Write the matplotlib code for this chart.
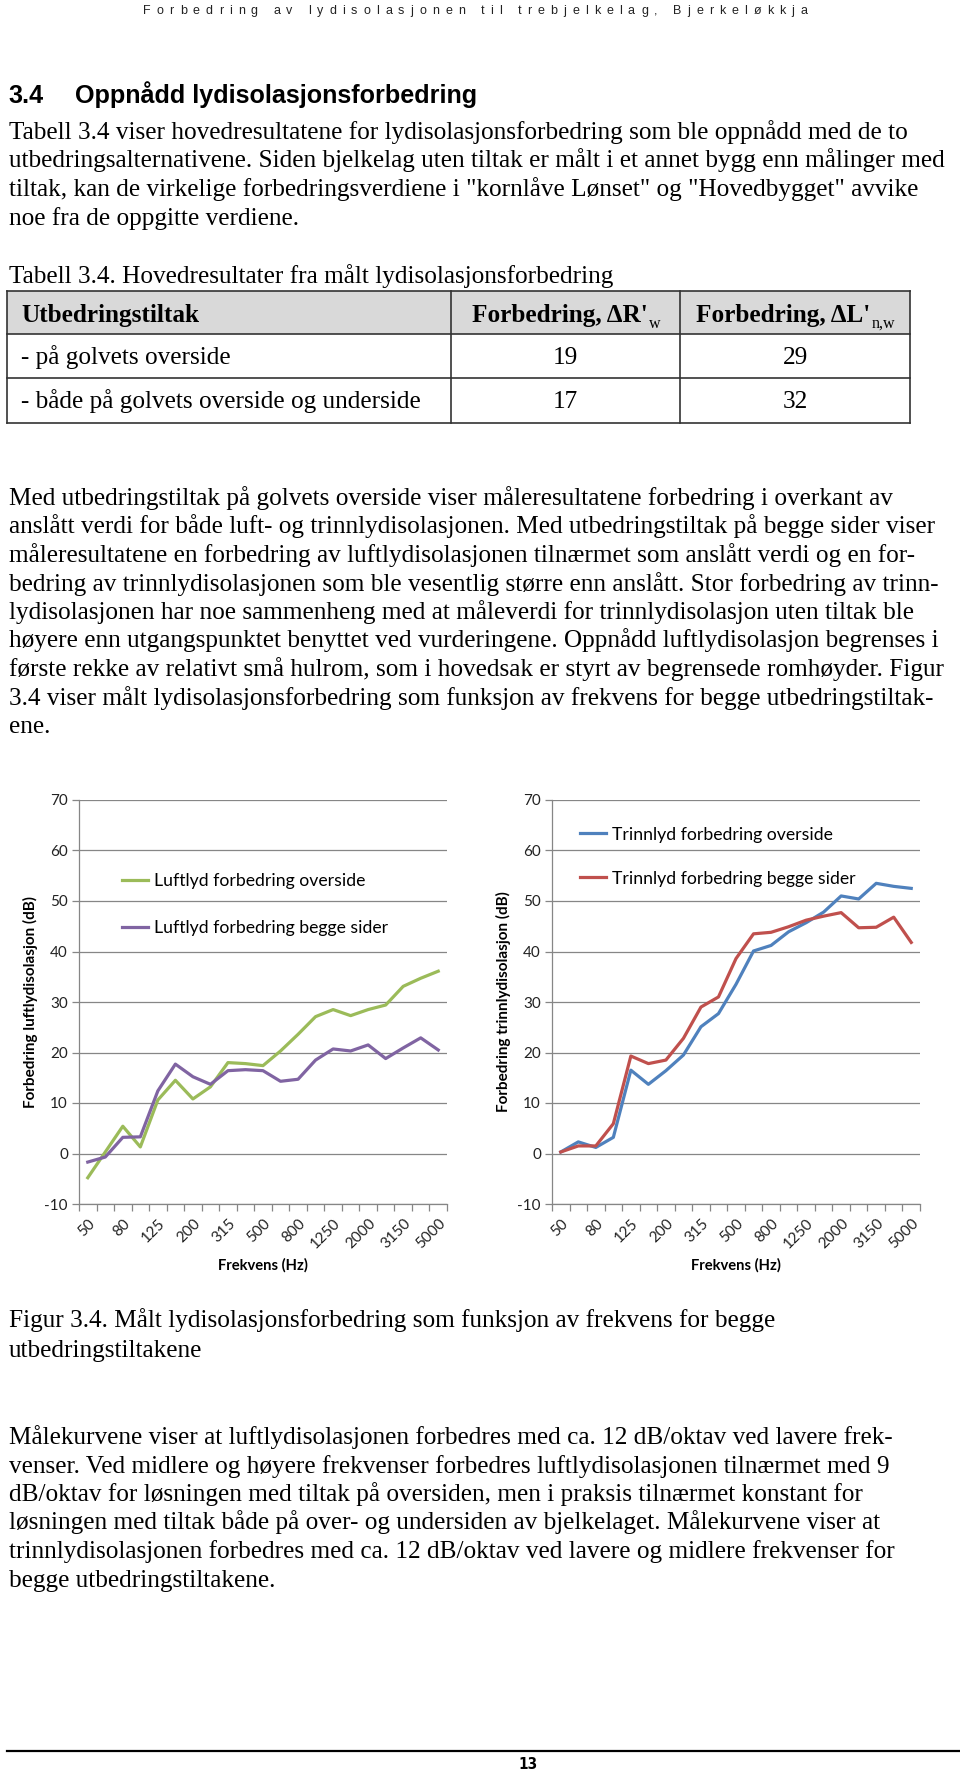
"""Page 13 of the Bjerkeløkkja report: section 3.4 with table 3.4 and figure 3.4
(measured sound insulation improvement vs. frequency, airborne and impact)."""
import matplotlib
matplotlib.use("Agg")
import matplotlib.pyplot as plt
from matplotlib.patches import Rectangle

plt.rcParams["axes.unicode_minus"] = False

W, H = 960, 1770
SERIF, SANS, CHART = "Liberation Serif", "Liberation Sans", "Lato"
GRID = "#868686"

# ---- data ---------------------------------------------------------------
freqs = ["50", "63", "80", "100", "125", "160", "200", "250", "315", "400", "500",
         "630", "800", "1000", "1250", "1600", "2000", "2500", "3150", "4000", "5000"]
luft_overside = [-4.8, 0.3, 5.4, 1.3, 10.6, 14.5, 10.8, 13.2, 18.0, 17.8, 17.4,
                 20.3, 23.6, 27.1, 28.5, 27.3, 28.5, 29.4, 33.1, 34.7, 36.1]
luft_begge = [-1.7, -0.7, 3.2, 3.3, 12.4, 17.7, 15.2, 13.7, 16.4, 16.6, 16.4,
              14.3, 14.7, 18.5, 20.7, 20.3, 21.5, 18.8, 20.9, 22.9, 20.5]
trinn_overside = [0.3, 2.3, 1.2, 3.2, 16.5, 13.7, 16.4, 19.5, 25.1, 27.7, 33.5,
                  40.1, 41.2, 43.9, 45.7, 47.8, 51.0, 50.4, 53.5, 52.9, 52.5]
trinn_begge = [0.3, 1.5, 1.5, 5.9, 19.3, 17.8, 18.5, 22.8, 29.0, 31.0, 38.6,
               43.5, 43.8, 44.9, 46.2, 47.0, 47.7, 44.7, 44.8, 46.8, 41.8]

table_head = ["Utbedringstiltak", ("Forbedring, ΔR'", "w"), ("Forbedring, ΔL'", "n,w")]
table_rows = [["- på golvets overside", "19", "29"],
              ["- både på golvets overside og underside", "17", "32"]]

header = "Forbedring av lydisolasjonen til trebjelkelag, Bjerkeløkkja"
para1 = ["Tabell 3.4 viser hovedresultatene for lydisolasjonsforbedring som ble oppnådd med de to",
         "utbedringsalternativene. Siden bjelkelag uten tiltak er målt i et annet bygg enn målinger med",
         "tiltak, kan de virkelige forbedringsverdiene i \"kornlåve Lønset\" og \"Hovedbygget\" avvike",
         "noe fra de oppgitte verdiene."]
para2 = ["Med utbedringstiltak på golvets overside viser måleresultatene forbedring i overkant av",
         "anslått verdi for både luft- og trinnlydisolasjonen. Med utbedringstiltak på begge sider viser",
         "måleresultatene en forbedring av luftlydisolasjonen tilnærmet som anslått verdi og en for-",
         "bedring av trinnlydisolasjonen som ble vesentlig større enn anslått. Stor forbedring av trinn-",
         "lydisolasjonen har noe sammenheng med at måleverdi for trinnlydisolasjon uten tiltak ble",
         "høyere enn utgangspunktet benyttet ved vurderingene. Oppnådd luftlydisolasjon begrenses i",
         "første rekke av relativt små hulrom, som i hovedsak er styrt av begrensede romhøyder. Figur",
         "3.4 viser målt lydisolasjonsforbedring som funksjon av frekvens for begge utbedringstiltak-",
         "ene."]
caption = ["Figur 3.4. Målt lydisolasjonsforbedring som funksjon av frekvens for begge",
           "utbedringstiltakene"]
para3 = ["Målekurvene viser at luftlydisolasjonen forbedres med ca. 12 dB/oktav ved lavere frek-",
         "venser. Ved midlere og høyere frekvenser forbedres luftlydisolasjonen tilnærmet med 9",
         "dB/oktav for løsningen med tiltak på oversiden, men i praksis tilnærmet konstant for",
         "løsningen med tiltak både på over- og undersiden av bjelkelaget. Målekurvene viser at",
         "trinnlydisolasjonen forbedres med ca. 12 dB/oktav ved lavere og midlere frekvenser for",
         "begge utbedringstiltakene."]

fig = plt.figure(figsize=(W / 100, H / 100), dpi=100)
fig.patch.set_facecolor("white")
page = fig.add_axes([0, 0, 1, 1])
page.set_xlim(0, W); page.set_ylim(H, 0); page.axis("off")
renderer = fig.canvas.get_renderer()

BODY = 18.2

def lines(rows, y0, step=28.5):
    for k, s in enumerate(rows):
        page.text(9, y0 + k * step, s, family=SERIF, fontsize=BODY, va="baseline")

def width(t):
    return t.get_window_extent(renderer).width

# running header, letter-spaced
x = 143
for ch in header:
    if ch == " ":
        x += 3.5 + 6
        continue
    t = page.text(x, 14, ch, family=SANS, fontsize=9, color="#222", va="baseline")
    x += width(t) + 6

page.text(8, 103, "3.4", family=SANS, fontsize=18.1, weight="bold", va="baseline")
page.text(75, 103, "Oppnådd lydisolasjonsforbedring", family=SANS, fontsize=18.1,
          weight="bold", va="baseline")
lines(para1, 139)
lines(["Tabell 3.4. Hovedresultater fra målt lydisolasjonsforbedring"], 283)

# table 3.4
xs = [7, 451, 680, 910]
ys = [291, 334, 378, 423]
page.add_patch(Rectangle((xs[0], ys[0]), xs[-1] - xs[0], ys[1] - ys[0], color="#d9d9d9", lw=0))
for yy in ys:
    page.plot([xs[0], xs[-1]], [yy, yy], color="#333", lw=1.2, solid_capstyle="projecting")
for xx in xs:
    page.plot([xx, xx], [ys[0], ys[-1]], color="#333", lw=1.2, solid_capstyle="projecting")
page.text(21, 322, table_head[0], family=SERIF, fontsize=BODY, weight="bold", va="baseline")
for c, (main, sub) in enumerate(table_head[1:], start=1):
    cx = (xs[c] + xs[c + 1]) / 2
    tm = page.text(0, 322, main, family=SERIF, fontsize=BODY, weight="bold", va="baseline")
    ts = page.text(0, 328, sub, family=SERIF, fontsize=11.5, va="baseline")
    wm, ws = width(tm), width(ts)
    tm.set_x(cx - (wm + ws) / 2)
    ts.set_x(cx - (wm + ws) / 2 + wm + 1)
for r, row in enumerate(table_rows):
    yb = [364, 408][r]
    page.text(21, yb, row[0], family=SERIF, fontsize=BODY, va="baseline")
    for c in (1, 2):
        page.text((xs[c] + xs[c + 1]) / 2, yb, row[c], family=SERIF, fontsize=BODY,
                  va="baseline", ha="center")

lines(para2, 505)
lines(caption, 1327, step=30)
lines(para3, 1444)

page.plot([7, 960], [1751, 1751], color="black", lw=1.6)
page.text(528, 1769, "13", family="DejaVu Sans", fontstretch="condensed", fontsize=11,
          weight="bold", ha="center", va="baseline")

# ---- the two charts -----------------------------------------------------
def chart(left, ylabel, series, legend_xy, spacing):
    ax = fig.add_axes([left / W, 1 - 1204 / H, 368 / W, 404 / H])
    ax.set_facecolor("none")
    idx = list(range(len(freqs)))
    for vals, col, lab in series:
        ax.plot(idx, vals, color=col, lw=2.3, label=lab, solid_joinstyle="round")
    ax.set_xlim(-0.5, len(freqs) - 0.5)
    ax.set_ylim(-10, 70)
    ax.set_yticks(range(-10, 71, 10))
    ax.grid(axis="y", color=GRID, lw=0.9)
    ax.set_axisbelow(True)
    for s in ("top", "right"):
        ax.spines[s].set_visible(False)
    for s in ("left", "bottom"):
        ax.spines[s].set_color(GRID)
        ax.spines[s].set_linewidth(0.9)
    ax.set_xticks([i - 0.5 for i in range(len(freqs) + 1)])
    ax.set_xticklabels([])
    ax.set_xticks(idx[::2], minor=True)
    ax.set_xticklabels(freqs[::2], minor=True, rotation=45, ha="right",
                       rotation_mode="anchor", family=CHART, fontsize=11, color="#222")
    ax.tick_params(axis="x", which="major", length=5, color=GRID, width=0.9)
    ax.tick_params(axis="x", which="minor", length=0, pad=9)
    ax.tick_params(axis="y", length=5, color=GRID, width=0.9, labelsize=11,
                   labelcolor="#222", pad=3)
    for t in ax.get_yticklabels():
        t.set_family(CHART)
    ax.set_ylabel(ylabel, family=CHART, fontsize=11, weight="bold")
    ax.yaxis.set_label_coords(-0.112, 0.5)
    ax.set_xlabel("Frekvens (Hz)", family=CHART, fontsize=10.6, weight="bold")
    ax.xaxis.set_label_coords(0.5, -0.134)
    ax.legend(loc="upper left", bbox_to_anchor=legend_xy, frameon=False, borderpad=0,
              borderaxespad=0, handlelength=1.45, handletextpad=0.35, labelspacing=spacing,
              prop={"family": CHART, "size": 12.7})
    return ax

chart(79, "Forbedring luftlydisolasjon (dB)",
      [(luft_overside, "#9bbb59", "Luftlyd forbedring overside"),
       (luft_begge, "#8064a2", "Luftlyd forbedring begge sider")], (0.117, 0.819), 1.75)
chart(552, "Forbedring trinnlydisolasjon (dB)",
      [(trinn_overside, "#4f81bd", "Trinnlyd forbedring overside"),
       (trinn_begge, "#c0504d", "Trinnlyd forbedring begge sider")], (0.076, 0.934), 1.58)

fig.savefig("out.png", dpi=100, facecolor="white")
